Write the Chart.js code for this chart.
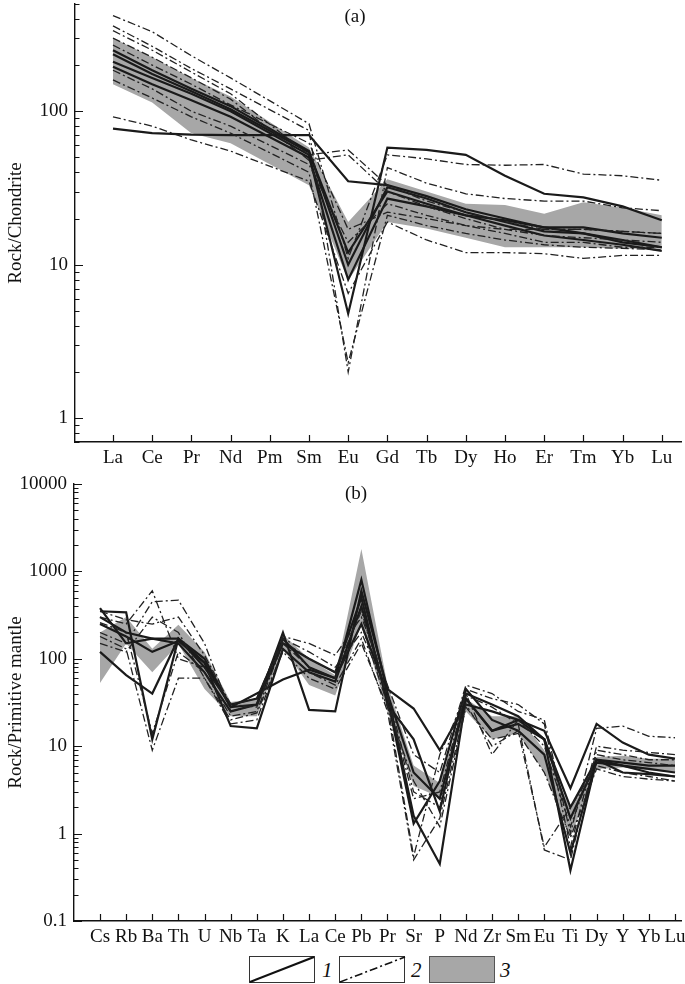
<!DOCTYPE html>
<html><head><meta charset="utf-8">
<script src="https://cdn.jsdelivr.net/npm/chart.js@4"></script>
<style>
body{margin:0;background:#fff;width:685px;height:984px;position:relative;overflow:hidden;font-family:"Liberation Serif","Times New Roman",serif;color:#111;}
canvas{position:absolute;left:0;}
#ca{top:0}
#cb{top:470px}
.pl{position:absolute;font-size:19px;transform:translateX(-50%);line-height:1;}
.lb{position:absolute;top:956px;width:66px;height:27px;box-sizing:border-box;border:1.3px solid #333;}
.ln{position:absolute;top:960px;font-size:21px;font-style:italic;line-height:1;}
</style></head><body>
<canvas id="ca" width="685" height="470"></canvas>
<canvas id="cb" width="685" height="480"></canvas>
<div class="pl" style="left:355px;top:6px">(a)</div>
<div class="pl" style="left:356px;top:483px">(b)</div>
<div class="lb" style="left:249px"><svg width="66" height="27" style="position:absolute;left:-1px;top:-1px"><line x1="1" y1="26" x2="65" y2="1" stroke="#111" stroke-width="2.2"/></svg></div>
<div class="ln" style="left:322px">1</div>
<div class="lb" style="left:339px"><svg width="67" height="27" style="position:absolute;left:-1px;top:-1px"><line x1="1" y1="26" x2="66" y2="1" stroke="#111" stroke-width="1.6" stroke-dasharray="8 3 2 3"/></svg></div>
<div class="ln" style="left:411px">2</div>
<div class="lb" style="left:429px;background:#a7a7a7;border-color:#555"></div>
<div class="ln" style="left:500px">3</div>
<script>
// ---------- (a) REE, chondrite-normalized ----------
const reeCats = ['La','Ce','Pr','Nd','Pm','Sm','Eu','Gd','Tb','Dy','Ho','Er','Tm','Yb','Lu'];
const reeTicks = [1, 10, 100];
const reeFieldUpper = [300,225,165,125,null,58,19,36,30,25,24.5,21.5,25.5,23.5,21];
const reeFieldLower = [150,114,72,62,null,33,7.9,19,17.2,15,13,13,13,12.7,12.7];
const reeSolid1 = [77,72,70.5,70,null,70,35,33,28,23,20,17.5,16,14,13];
const reeSolid2 = [210,165,130,100,null,52,4.8,58,56,52,38,29,27.5,24,19.5];
const reeSolid3 = [250,185,140,108,null,55,10,32,27,22,19,16.5,16,14.5,13];
const reeSolid4 = [235,175,135,103,null,54,12,30,25,21,18,15.5,14.5,13.5,12.3];
const reeSolid5 = [195,150,118,92,null,50,8,27,24,21,19.5,17.5,17.5,16,15];
const reeDash1 = [420,330,230,165,null,83,11,52,49,45,44.5,45,39,38,35.5];
const reeDash2 = [360,265,190,140,null,75,2,43,34,29,27,26,26,23.5,22.5];
const reeDash3 = [335,250,180,130,null,52,56,33,26,22,19,17,17,16.5,16];
const reeDash4 = [300,225,165,120,null,48,52,30,24,20,17,15.5,15,14.5,14];
const reeDash5 = [185,140,100,80,null,45,14,25,21,18,16,14,14,13,13];
const reeDash6 = [92,80,65,55,null,35,6.5,19,14.5,12,12,11.8,11,11.5,11.5];
const reeDash7 = [270,200,150,110,null,62,17,22,20,18,17,17,17,16.5,16];
const reeDash8 = [160,122,92,72,null,40,2.3,21,18,16,14.5,13.5,13,12.8,12.5];

// ---------- (b) spider, primitive-mantle-normalized ----------
const spCats = ['Cs','Rb','Ba','Th','U','Nb','Ta','K','La','Ce','Pb','Pr','Sr','P','Nd','Zr','Sm','Eu','Ti','Dy','Y','Yb','Lu'];
const spTicks = [0.1, 1, 10, 100, 1000, 10000];
const spFieldUpper = [200,300,130,245,120,32,35,190,100,65,1800,50,6,3.8,35,22,22,9,1.9,7.5,7.8,7.2,7.2];
const spFieldLower = [53,150,70,148,45,22,22,130,50,38,250,25,3.5,2.6,25,12,14,5,0.9,5.5,5.7,5.3,5];
const spSolid1 = [350,340,12,170,80,30,35,170,80,60,800,40,1.6,0.45,35,15,18,12,0.38,7,6,5.5,5];
const spSolid2 = [120,65,40,170,90,28,40,58,75,60,250,40,5,2.5,35,15,20,12,2,7,6.5,6,6];
const spSolid3 = [300,200,170,170,100,28,30,200,26,25,600,45,27,9,30,25,20,15,3.3,18,11,8,7.2];
const spSolid4 = [380,150,170,150,70,25,30,150,100,70,500,30,12,1.8,40,30,22,12,1.5,6.5,6,5,4.5];
const spSolid5 = [250,180,120,160,90,17,16,130,70,55,400,35,1.3,4,45,20,15,8,0.6,7,5,4.8,4.5];
const spDash1 = [300,250,600,100,80,30,35,180,150,110,300,50,8,5,50,40,25,20,1,16,17,13,12.5];
const spDash2 = [200,150,450,470,150,25,30,170,120,80,200,40,3,2,45,35,30,18,0.7,10,9,8.5,8];
const spDash3 = [180,130,9,60,60,18,20,130,70,50,170,25,0.5,1.5,30,10,15,0.7,2,6,5,4.5,4];
const spDash4 = [350,280,250,300,110,30,28,160,100,70,350,35,2.5,3,40,8,20,10,1.2,8,7,6.5,6];
const spDash5 = [260,200,14,120,70,22,25,150,80,60,250,30,0.55,8,38,28,18,0.65,0.5,9,8,7,7];
const spDash6 = [150,120,300,200,60,20,24,120,60,45,150,28,4,1.2,28,12,14,5,0.9,5.5,4.5,4.2,4];

const FONT = '"Liberation Serif","Times New Roman",serif';
Chart.defaults.font.family = FONT;
Chart.defaults.font.size = 19;
Chart.defaults.color = '#111';

const pts = arr => arr.map((v, i) => ({x: i, y: v}));
const isPow10 = v => Math.abs(Math.log10(v) - Math.round(Math.log10(v))) < 1e-6;

function solid(arr){return {data: pts(arr), borderColor:'#1a1a1a', borderWidth:2.2, pointRadius:0, fill:false, spanGaps:true, tension:0};}
function dash(arr){return {data: pts(arr), borderColor:'#222', borderWidth:1.3, borderDash:[8,3,2,3], pointRadius:0, fill:false, spanGaps:true, tension:0};}
function field(up, lo){return [
  {data: pts(up), borderWidth:0, borderColor:'rgba(0,0,0,0)', backgroundColor:'#a7a7a7', pointRadius:0, fill:'+1', spanGaps:true, tension:0},
  {data: pts(lo), borderWidth:0, borderColor:'rgba(0,0,0,0)', pointRadius:0, fill:false, spanGaps:true, tension:0}
];}

const innerTicks = {
  id:'innerTicks',
  afterDraw(chart){
    const ctx = chart.ctx, a = chart.chartArea, ys = chart.scales.y, xs = chart.scales.x;
    ctx.save();
    ctx.strokeStyle = '#111';
    ctx.lineWidth = 1.2;
    ctx.beginPath();
    ys.ticks.forEach(t => {
      const y = Math.round(ys.getPixelForValue(t.value)) + 0.5;
      const len = isPow10(t.value) ? 8 : 4.5;
      ctx.moveTo(a.left, y); ctx.lineTo(a.left + len, y);
    });
    xs.ticks.forEach(t => {
      const x = Math.round(xs.getPixelForValue(t.value)) + 0.5;
      ctx.moveTo(x, a.bottom); ctx.lineTo(x, a.bottom - 7);
    });
    ctx.stroke();
    ctx.restore();
  }
};

function logTicks(min, max){
  const out = [];
  for (let e = Math.floor(Math.log10(min)); e <= Math.ceil(Math.log10(max)); e++) {
    for (let m = 1; m <= 9; m++) {
      const v = parseFloat((m * Math.pow(10, e)).toPrecision(6));
      if (v >= min - 1e-9 && v <= max + 1e-9) out.push({value: v});
    }
  }
  return out;
}

function makeChart(id, cats, labels, datasets, o){
  return new Chart(document.getElementById(id), {
    type:'line',
    data:{datasets},
    plugins:[innerTicks],
    options:{
      responsive:false, animation:false, devicePixelRatio:1,
      layout:{padding:{left:0, top:o.top, right:o.right, bottom:0}},
      plugins:{legend:{display:false}, tooltip:{enabled:false}, filler:{drawTime:'beforeDatasetsDraw'}},
      scales:{
        x:{type:'linear', min:o.xmin, max:o.xmax,
          grid:{display:false, drawTicks:false},
          border:{display:true, color:'#111', width:1.4},
          afterBuildTicks: s => { s.ticks = cats.map((c, i) => ({value:i})); },
          afterFit: s => { s.height = o.xh; s.paddingLeft = 0; s.paddingRight = 0; },
          ticks:{autoSkip:false, maxRotation:0, minRotation:0, padding:5, font:{size:o.xfs},
            callback: v => cats[v]}
        },
        y:{type:'logarithmic', min:o.ymin, max:o.ymax,
          grid:{display:false, drawTicks:false},
          border:{display:true, color:'#111', width:1.4},
          afterBuildTicks: s => { s.ticks = logTicks(o.ymin, o.ymax); },
          afterFit: s => { s.width = o.yw; s.paddingTop = 0; s.paddingBottom = 0; },
          ticks:{autoSkip:false, padding:7, font:{size:19},
            callback: v => labels.some(l => Math.abs(l - v) < 1e-9 * Math.max(1, l)) ? String(v) : ''},
          title:{display:true, text:o.title, font:{size:19}, padding:{top:5, bottom:0}}
        }
      }
    }
  });
}

makeChart('ca', reeCats, reeTicks, [
  ...field(reeFieldUpper, reeFieldLower),
  dash(reeDash1), dash(reeDash2), dash(reeDash3), dash(reeDash4), dash(reeDash5), dash(reeDash6), dash(reeDash7), dash(reeDash8),
  solid(reeSolid1), solid(reeSolid2), solid(reeSolid3), solid(reeSolid4), solid(reeSolid5)
], {top:4, right:4, xh:28, yw:75, xmin:-0.969, xmax:14.49, ymin:0.7, ymax:500, xfs:19, title:'Rock/Chondrite'});

makeChart('cb', spCats, spTicks, [
  ...field(spFieldUpper, spFieldLower),
  dash(spDash1), dash(spDash2), dash(spDash3), dash(spDash4), dash(spDash5), dash(spDash6),
  solid(spSolid1), solid(spSolid2), solid(spSolid3), solid(spSolid4), solid(spSolid5)
], {top:14, right:4, xh:29, yw:74, xmin:-0.995, xmax:22.23, ymin:0.1, ymax:10000, xfs:19, title:'Rock/Primitive mantle'});
</script>
</body></html>
